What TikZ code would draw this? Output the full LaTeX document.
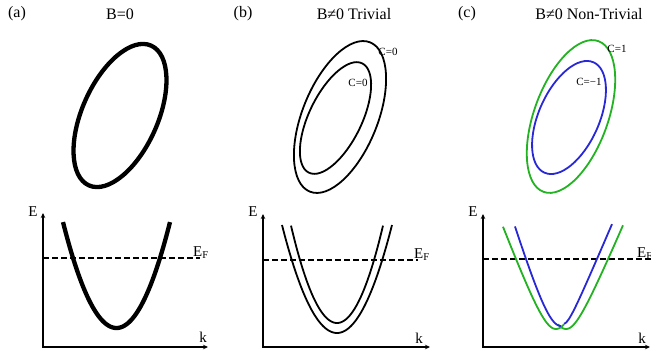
\documentclass[tikz,border=0pt]{standalone}
\usepackage{fontspec}
\setmainfont{Liberation Serif}
\usetikzlibrary{arrows.meta}
\definecolor{bandgreen}{RGB}{34,178,34}
\definecolor{bandblue}{RGB}{40,40,215}
\begin{document}
\begin{tikzpicture}[x=1pt,y=-1pt,
  title/.style={font=\fontsize{16}{18}\selectfont, inner sep=0pt},
  clabel/.style={font=\fontsize{11}{13}\selectfont, inner sep=0pt},
  axlabel/.style={font=\fontsize{15}{17}\selectfont, inner sep=0pt},
  axis/.style={line width=1.8pt, {Stealth[length=5pt,width=4.5pt]}-{Stealth[length=5pt,width=4.5pt]}},
  fermi/.style={line width=1.5pt, dash pattern=on 6pt off 3pt},
  thickband/.style={line width=4.3pt},
  band/.style={line width=1.8pt},
]
\useasboundingbox (0,0) rectangle (651,356);

% titles
\node[title] (ta) at (17,14) {(a)};
\node[title] (tba) at (120,14) {B=0};
\node[title] (tb) at (243,14) {(b)};
\node[title] (tbb) at (354,14) {B≠0 Trivial};
\node[title] (tc) at (467,14) {(c)};
\node[title] (tcc) at (589,14) {B≠0 Non-Trivial};

% ---- Fermi surfaces ----
\draw[thickband, rotate around={66:(120,115.5)}] (120,115.5) ellipse [x radius=76.5pt, y radius=37.8pt];

\draw[band, rotate around={68:(340,117)}] (340,117) ellipse [x radius=80.5pt, y radius=37.6pt];
\draw[band, rotate around={64:(335.5,118)}] (335.5,118) ellipse [x radius=60.8pt, y radius=26.3pt];
\node[clabel] (cb1) at (388,52) {C=0};
\node[clabel] (cb2) at (358,83) {C=0};

\draw[band, bandgreen, rotate around={70:(571,116.5)}] (571,116.5) ellipse [x radius=80.2pt, y radius=36.9pt];
\draw[band, bandblue, rotate around={66:(569,117.5)}] (569,117.5) ellipse [x radius=60.4pt, y radius=30.2pt];
\node[clabel] (cc1) at (617,49) {C=1};
\node[clabel] (cc2) at (589,82) {C=−1};

% ---- band diagrams ----
% (a)
\coordinate (aT) at (43,213);
\coordinate (aO) at (43,347);
\coordinate (aR) at (208,347);
\draw[axis] (aT) -- (aO) -- (aR);
\node[axlabel] (aE) at (33,212) {E};
\node[axlabel] (ak) at (203,337) {k};
\coordinate (aF1) at (43,258);
\coordinate (aF2) at (200,258);
\draw[fermi] (aF1) -- (aF2);
\node[axlabel, anchor=west] (aEF) at (193,253) {E\textsubscript{F}};
\draw[thickband] plot[domain=63:170, samples=80] (\x, {328-0.037*(\x-116.5)^2});

% (b)
\coordinate (bT) at (263,214);
\coordinate (bO) at (263,347);
\coordinate (bR) at (430,347);
\draw[axis] (bT) -- (bO) -- (bR);
\node[axlabel] (bE) at (253,212) {E};
\node[axlabel] (bk) at (419,338) {k};
\coordinate (bF1) at (263,260);
\coordinate (bF2) at (418,260);
\draw[fermi] (bF1) -- (bF2);
\node[axlabel, anchor=west] (bEF) at (414,255) {E\textsubscript{F}};
\draw[band] plot[domain=282:392, samples=80] (\x, {333-0.0357*(\x-337)^2});
\draw[band] plot[domain=291:383, samples=80] (\x, {323-0.046*(\x-337)^2});

% (c)
\coordinate (cT) at (483,214);
\coordinate (cO) at (483,347);
\coordinate (cR) at (650,347);
\draw[axis] (cT) -- (cO) -- (cR);
\node[axlabel] (cE) at (473,212) {E};
\node[axlabel] (ck) at (642,338) {k};
\coordinate (cF1) at (483,259);
\coordinate (cF2) at (651,259);
\draw[fermi] (cF1) -- (cF2);
\node[axlabel, anchor=west] (cEF) at (637,254) {E\textsubscript{F}};
\draw[band, bandgreen] plot[domain=503:564, samples=80] (\x, {329-2.645*(sqrt((\x-556)^2+289)-17)});
\draw[band, bandgreen] plot[domain=558:623, samples=80] (\x, {329-2.36*(sqrt((\x-566)^2+225)-15)});
\draw[band, bandblue] plot[domain=515:561, samples=80] (\x, {326-3.3*(sqrt((\x-561)^2+400)-20)});
\draw[band, bandblue] plot[domain=564:612, samples=80] (\x, {324-2.35*(sqrt((\x-563)^2+49)-7)});
\end{tikzpicture}
\end{document}
